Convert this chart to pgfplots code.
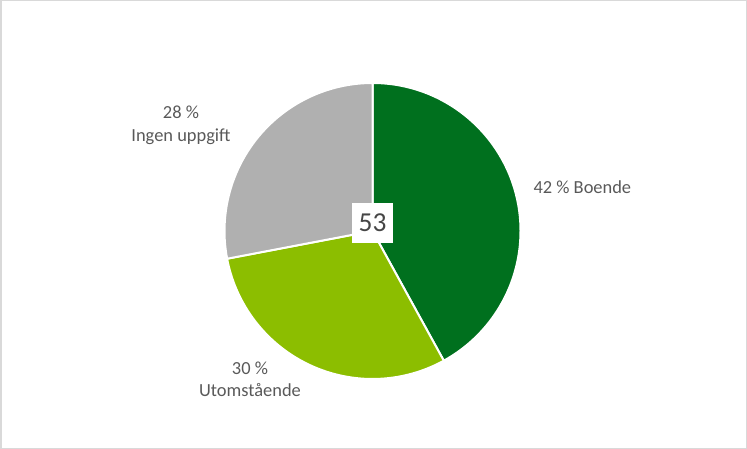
\documentclass[border=0pt]{standalone}
\usepackage{fontspec}
\setmainfont{Carlito}
\usepackage{pgfplots}
\usepackage{pgfplotstable}
\pgfplotsset{compat=1.18}

\definecolor{boende}{RGB}{0,112,30}
\definecolor{utom}{RGB}{140,190,0}
\definecolor{ingen}{RGB}{176,176,176}
\definecolor{labeltext}{RGB}{89,89,89}
\definecolor{totaltext}{RGB}{70,70,70}
\definecolor{framegray}{RGB}{217,217,217}

% andelar i procent, medurs från kl. 12
\pgfplotstableread{
label value
Boende 42
Utomstaende 30
Ingen 28
}\piedata

\begin{document}
\begin{tikzpicture}
\pgfplotstablegetelem{0}{value}\of\piedata \let\valA\pgfplotsretval
\pgfplotstablegetelem{1}{value}\of\piedata \let\valB\pgfplotsretval
\pgfplotstablegetelem{2}{value}\of\piedata \let\valC\pgfplotsretval
\pgfmathsetmacro\angA{90-3.6*\valA}
\pgfmathsetmacro\angB{\angA-3.6*\valB}
\pgfmathsetmacro\angC{\angB-3.6*\valC}
\begin{axis}[
  width=747bp, height=449bp, scale only axis,
  xmin=0, xmax=747, ymin=0, ymax=449,
  hide axis, clip=false,
]
\draw[framegray, line width=1.5bp] (axis cs:0.75,0.75) rectangle (axis cs:746.25,448.25);

\fill[boende, draw=white, line width=2bp] (axis cs:372.5,218) -- ++(90:148bp)
  arc[start angle=90, end angle=\angA, radius=148bp] -- cycle;
\fill[utom, draw=white, line width=2bp] (axis cs:372.5,218) -- ++(\angA:148bp)
  arc[start angle=\angA, end angle=\angB, radius=148bp] -- cycle;
\fill[ingen, draw=white, line width=2bp] (axis cs:372.5,218) -- ++(\angB:148bp)
  arc[start angle=\angB, end angle=\angC, radius=148bp] -- cycle;

\node[anchor=west, text=labeltext, font=\fontsize{18.5}{22.5}\selectfont]
  at (axis cs:530,262) {\valA~\% Boende};
\node[align=center, text=labeltext, font=\fontsize{18.5}{22.5}\selectfont]
  at (axis cs:250,69.5) {\valB~\%\\Utomstående};
\node[align=center, text=labeltext, font=\fontsize{18.5}{22.5}\selectfont]
  at (axis cs:181,323.5) {\valC~\%\\Ingen uppgift};

\node[fill=white, text=totaltext, font=\fontsize{27.5}{30}\selectfont,
  minimum width=41bp, minimum height=40bp, inner sep=0pt]
  at (axis cs:372.5,226) {53};
\end{axis}
\end{tikzpicture}
\end{document}
